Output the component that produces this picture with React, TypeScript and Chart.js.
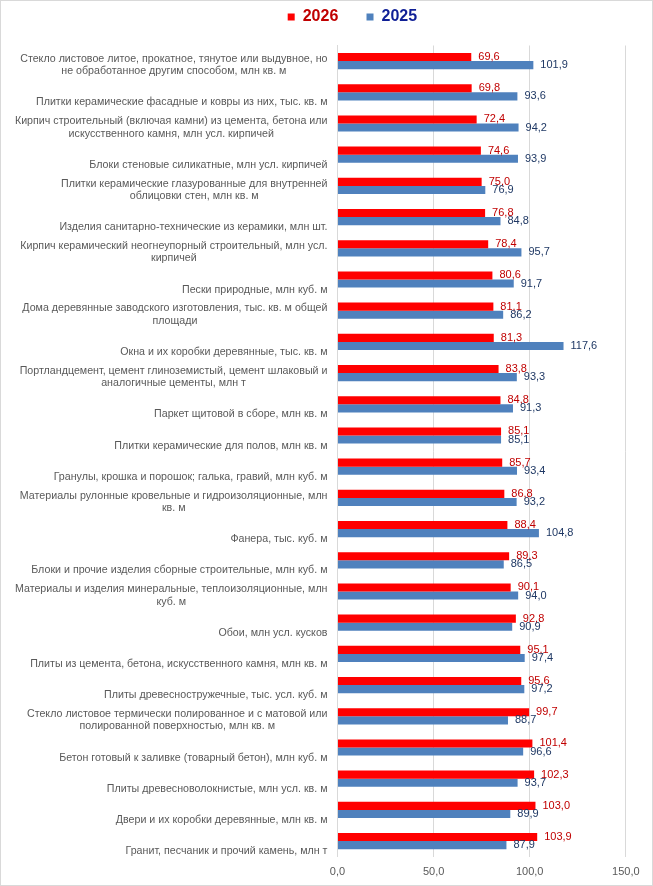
import React, { useEffect, useRef } from "react";
import { Chart, registerables } from "chart.js";

Chart.register(...registerables);

const categories: string[][] = [
  ["Стекло листовое литое, прокатное, тянутое или выдувное, но", "не обработанное другим способом, млн кв. м"],
  ["Плитки керамические фасадные и ковры из них, тыс. кв. м"],
  ["Кирпич строительный (включая камни) из цемента, бетона или", "искусственного камня, млн усл. кирпичей"],
  ["Блоки стеновые силикатные, млн усл. кирпичей"],
  ["Плитки керамические глазурованные для внутренней", "облицовки стен, млн кв. м"],
  ["Изделия санитарно-технические из керамики, млн шт."],
  ["Кирпич керамический неогнеупорный строительный, млн усл.", "кирпичей"],
  ["Пески природные, млн куб. м"],
  ["Дома деревянные заводского изготовления, тыс. кв. м общей", "площади"],
  ["Окна и их коробки деревянные, тыс. кв. м"],
  ["Портландцемент, цемент глиноземистый, цемент шлаковый и", "аналогичные цементы, млн т"],
  ["Паркет щитовой в сборе, млн кв. м"],
  ["Плитки керамические для полов, млн кв. м"],
  ["Гранулы, крошка и порошок; галька, гравий, млн куб. м"],
  ["Материалы рулонные кровельные и гидроизоляционные, млн", "кв. м"],
  ["Фанера, тыс. куб. м"],
  ["Блоки и прочие изделия сборные строительные, млн куб. м"],
  ["Материалы и изделия минеральные, теплоизоляционные, млн", "куб. м"],
  ["Обои, млн усл. кусков"],
  ["Плиты из цемента, бетона, искусственного камня, млн кв. м"],
  ["Плиты древесностружечные, тыс. усл. куб. м"],
  ["Стекло листовое термически полированное и с матовой или", "полированной поверхностью, млн кв. м"],
  ["Бетон готовый к заливке (товарный бетон), млн куб. м"],
  ["Плиты древесноволокнистые, млн усл. кв. м"],
  ["Двери и их коробки деревянные, млн кв. м"],
  ["Гранит, песчаник и прочий камень, млн т"],
];

const values2026: number[] = [
  69.6, 69.8, 72.4, 74.6, 75.0, 76.8, 78.4, 80.6, 81.1, 81.3, 83.8, 84.8, 85.1,
  85.7, 86.8, 88.4, 89.3, 90.1, 92.8, 95.1, 95.6, 99.7, 101.4, 102.3, 103.0, 103.9,
];

const values2025: number[] = [
  101.9, 93.6, 94.2, 93.9, 76.9, 84.8, 95.7, 91.7, 86.2, 117.6, 93.3, 91.3, 85.1,
  93.4, 93.2, 104.8, 86.5, 94.0, 90.9, 97.4, 97.2, 88.7, 96.6, 93.7, 89.9, 87.9,
];

const seriesNames: string[] = ["2026", "2025"];
const xMin = 0;
const xMax = 150;
const xStep = 50;

const barColors = ["#FF0000", "#4F81BD"];
const valueLabelColors = ["#C00000", "#1F3864"];
const legendTextColors = ["#C00000", "#0F1F96"];
const FONT = "'Liberation Sans', Arial, sans-serif";

const fmt = (v: number) => v.toFixed(1).replace(".", ",");

const valueLabelPlugin = {
  id: "valueLabels",
  afterDatasetsDraw(chart: any) {
    const ctx = chart.ctx;
    ctx.save();
    ctx.font = `11px ${FONT}`;
    ctx.textAlign = "left";
    ctx.textBaseline = "middle";
    chart.data.datasets.forEach((ds: any, di: number) => {
      const meta = chart.getDatasetMeta(di);
      ctx.fillStyle = valueLabelColors[di];
      meta.data.forEach((el: any, i: number) => {
        ctx.fillText(fmt(ds.data[i]), el.x + 7, el.y);
      });
    });
    ctx.restore();
  },
};

const SX = 0.97;

const categoryLabelPlugin = {
  id: "categoryLabels",
  afterDraw(chart: any) {
    const ctx = chart.ctx;
    const y = chart.scales.y;
    ctx.save();
    ctx.font = `11px ${FONT}`;
    ctx.fillStyle = "#595959";
    ctx.textAlign = "center";
    ctx.textBaseline = "middle";
    categories.forEach((lines, i) => {
      const yc = y.getPixelForTick(i);
      const maxW = Math.max(...lines.map((l) => ctx.measureText(l).width)) * SX;
      const cx = y.right - 10 - maxW / 2;
      const n = lines.length;
      lines.forEach((line, k) => {
        ctx.save();
        ctx.translate(cx, yc + 10 - (n - 1 - k) * 12.4);
        ctx.scale(SX, 1);
        ctx.fillText(line, 0, 0);
        ctx.restore();
      });
    });
    ctx.restore();
  },
};

export default function App() {
  const ref = useRef<HTMLCanvasElement | null>(null);

  useEffect(() => {
    document.body.style.margin = "0";
    if (!ref.current) return;
    Chart.defaults.font.family = FONT;
    const L = 78;
    const chart = new Chart(ref.current, {
      type: "bar",
      data: {
        labels: categories.map((c) => c.join(" ")),
        datasets: [
          {
            label: seriesNames[0],
            data: values2026,
            backgroundColor: barColors[0],
            categoryPercentage: 0.52,
            barPercentage: 1,
          },
          {
            label: seriesNames[1],
            data: values2025,
            backgroundColor: barColors[1],
            categoryPercentage: 0.52,
            barPercentage: 1,
          },
        ],
      },
      options: {
        indexAxis: "y",
        responsive: false,
        animation: false,
        devicePixelRatio: 1,
        layout: { padding: { top: 2, left: L, right: 26.2, bottom: 8.3 } },
        plugins: {
          tooltip: { enabled: false },
          legend: {
            display: true,
            position: "top",
            align: "center",
            labels: {
              boxWidth: 7,
              boxHeight: 7,
              padding: 6,
              font: { size: 16, weight: "bold", family: FONT },
              generateLabels: (ch: any) =>
                ch.data.datasets.map((ds: any, i: number) => ({
                  text: i === 0 ? ds.label + "     " : ds.label,
                  fillStyle: ds.backgroundColor,
                  strokeStyle: ds.backgroundColor,
                  lineWidth: 0,
                  hidden: false,
                  datasetIndex: i,
                  fontColor: legendTextColors[i],
                })),
            },
          },
        },
        scales: {
          x: {
            type: "linear",
            position: "bottom",
            min: xMin,
            max: xMax,
            ticks: {
              stepSize: xStep,
              padding: 9,
              color: "#595959",
              font: { size: 11, family: FONT },
              callback: (v: any) => fmt(Number(v)),
            },
            grid: { color: "#D9D9D9", lineWidth: 1, drawTicks: false },
            border: { display: false },
            afterFit: (s: any) => {
              s.height = 20;
            },
          },
          xTop: {
            type: "linear",
            position: "top",
            display: true,
            ticks: { display: false },
            grid: { display: false, drawTicks: false },
            border: { display: false },
            afterFit: (s: any) => {
              s.height = 10.5;
            },
          },
          y: {
            type: "category",
            position: "left",
            ticks: { display: false },
            grid: { display: false, drawTicks: false },
            border: { display: true, color: "#D9D9D9", width: 1 },
            afterFit: (s: any) => {
              s.width = 336.5 - L;
            },
          },
        },
      },
      plugins: [valueLabelPlugin, categoryLabelPlugin],
    } as any);
    return () => chart.destroy();
  }, []);

  return (
    <div
      style={{
        width: 653,
        height: 886,
        border: "1px solid #D9D9D9",
        boxSizing: "border-box",
        background: "#FFFFFF",
        position: "relative",
      }}
    >
      <canvas ref={ref} width={651} height={884} style={{ display: "block", width: 651, height: 884 }} />
    </div>
  );
}
